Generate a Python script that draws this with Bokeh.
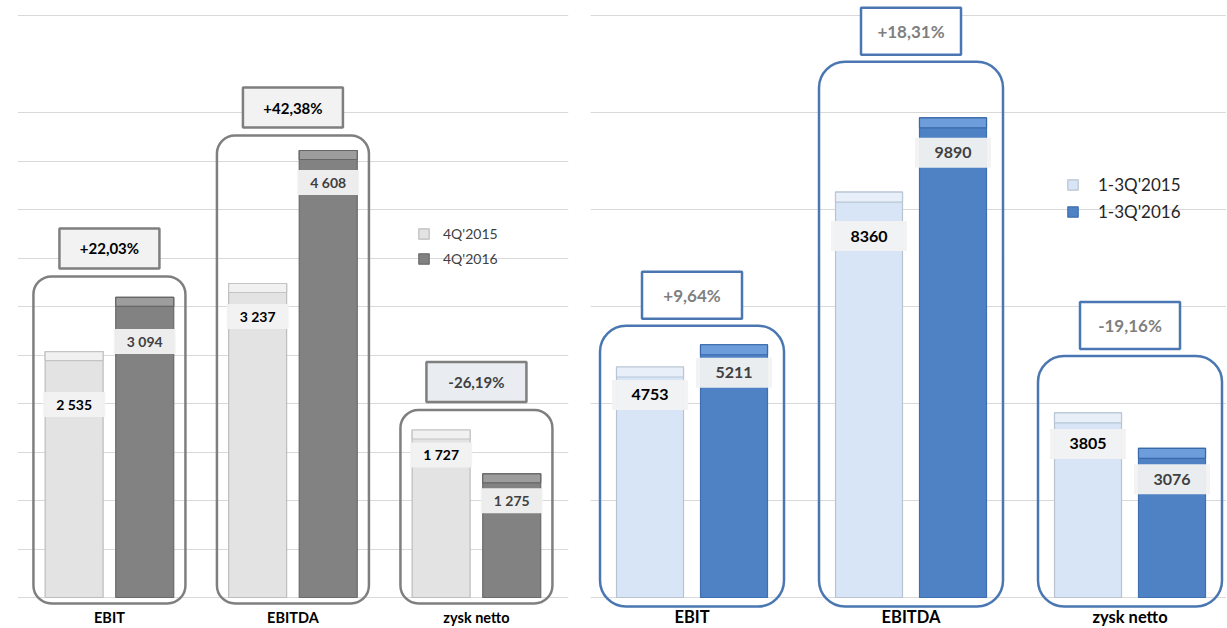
import numpy as np
from bokeh.plotting import figure
from bokeh.models import ColumnDataSource, Range1d, FixedTicker, Legend, LegendItem
from bokeh.layouts import row
from bokeh.embed import file_html
from bokeh.resources import INLINE
from bokeh.core.properties import value

# ---------------- data ----------------
categories = ["EBIT", "EBITDA", "zysk netto"]

q_series = ["4Q'2015", "4Q'2016"]
q_2015 = [2535, 3237, 1727]
q_2016 = [3094, 4608, 1275]
q_change = ["+22,03%", "+42,38%", "-26,19%"]

ytd_series = ["1-3Q'2015", "1-3Q'2016"]
ytd_2015 = [4753, 8360, 3805]
ytd_2016 = [5211, 9890, 3076]
ytd_change = ["+9,64%", "+18,31%", "-19,16%"]

grid_left = list(range(0, 5001, 500)) + [6000]
grid_right = list(range(0, 12001, 2000))

FONT = "Lato"

# ---------------- layout / style ----------------
FIG_H = 627
BASE_Y = 597  # pixel row of the zero line

left_style = dict(
    width=590, mbl=17, mbr=22, frame_w=551, ux=183.5, x0=-0.501, py=0.097,
    off_px=35.3, bar_px=58, cap_px=9,
    c_a="#e3e3e3", l_a="#bdbdbd", cap_a="#f1f1f1", capl_a="#c4c4c4",
    c_b="#828282", l_b="#6a6a6a", cap_b="#9d9d9d", capl_b="#666666",
    lab_h=25, lab_w=62, lab_off_a=[53, 33, 25], lab_off_b=[44, 32, 27],
    lab_size="14px", lab_col_a="#000000", lab_col_b="#404040",
    grp_w=152, grp_pad=[21, 15, 20], grp_below=6, grp_col="#7f7f7f", grp_r=18,
    pct_w=100, pct_h=40, pct_gap=8, pct_fill=["#f2f2f2", "#f2f2f2", "#e9edf1"],
    pct_line="#7f7f7f", pct_col=["#000000", "#000000", "#404040"], pct_size="15px",
    cat_size="14.5px", cat_off=20, leg_loc=(400, 359), leg_size="14px", leg_col="#404040",
    leg_standoff=13, leg_spacing=5, sep=" ",
)

right_style = dict(
    width=636, mbl=0, mbr=0, frame_w=636, ux=219.0, x0=-0.4635, py=0.0485,
    off_px=42, bar_px=67, cap_px=10,
    c_a="#d7e5f6", l_a="#b9c3cf", cap_a="#e8eff9", capl_a="#b9c6d6",
    c_b="#4f82c4", l_b="#3f6fae", cap_b="#6d9ddb", capl_b="#3a69a8",
    lab_h=30, lab_w=76, lab_off_a=[28, 44, 31], lab_off_b=[28, 35, 31],
    lab_size="16px", lab_col_a="#000000", lab_col_b="#404040",
    grp_w=184, grp_pad=[19, 56, 57], grp_below=9, grp_col="#4a77b2", grp_r=26,
    pct_w=100, pct_h=47, pct_gap=7, pct_fill=["#ffffff", "#ffffff", "#ffffff"],
    pct_line="#4a77b2", pct_col=["#7f7f7f", "#7f7f7f", "#7f7f7f"], pct_size="17px",
    cat_size="16.5px", cat_off=19, leg_loc=(476, 405), leg_size="17px", leg_col="#262626",
    leg_standoff=19, leg_spacing=6, sep="",
)


def build(vals_a, vals_b, names, changes, grid, st):
    n = len(categories)
    idx = np.arange(n, dtype=float)
    py, ux = st["py"], st["ux"]
    vals_a = np.array(vals_a, dtype=float)
    vals_b = np.array(vals_b, dtype=float)

    p = figure(width=st["width"], height=FIG_H,
               x_range=Range1d(st["x0"], st["x0"] + st["frame_w"] / ux),
               y_range=Range1d(-(FIG_H - BASE_Y) / py, BASE_Y / py),
               output_backend="svg", toolbar_location=None,
               x_axis_location=None, y_axis_location=None,
               min_border_left=st["mbl"], min_border_right=st["mbr"],
               min_border_top=0, min_border_bottom=0)
    p.outline_line_color = None
    p.background_fill_color = "white"
    for g in p.xgrid:
        g.grid_line_color = None
    for g in p.ygrid:
        g.ticker = FixedTicker(ticks=grid)
        g.grid_line_color = "#d9d9d9"
        g.grid_line_width = 1

    off = st["off_px"] / ux
    bw = st["bar_px"] / ux
    cap = st["cap_px"] / py

    # category labels under the zero line
    csrc = ColumnDataSource(dict(x=idx, y=np.full(n, -st["cat_off"] / py), txt=categories))
    p.text(x="x", y="y", text="txt", source=csrc, text_font=value(FONT),
           text_font_style="bold", text_font_size=st["cat_size"], text_color="#000000",
           text_align="center", text_baseline="middle")

    # group frames
    gw = st["grp_w"] / ux
    gtop = np.maximum(vals_a, vals_b) + np.array(st["grp_pad"]) / py
    gsrc = ColumnDataSource(dict(l=idx - gw / 2, r=idx + gw / 2,
                                 b=np.full(n, -st["grp_below"] / py), t=gtop))
    p.quad(left="l", right="r", bottom="b", top="t", source=gsrc, fill_color=None,
           line_color=st["grp_col"], line_width=2.5, border_radius=st["grp_r"])

    # bars
    src = ColumnDataSource(dict(xa=idx - off, xb=idx + off, va=vals_a, vb=vals_b,
                                ca=vals_a - cap, cb=vals_b - cap))
    ra = p.vbar(x="xa", top="va", bottom=0, width=bw, source=src,
                fill_color=st["c_a"], line_color=st["l_a"], line_width=1.2)
    rb = p.vbar(x="xb", top="vb", bottom=0, width=bw, source=src,
                fill_color=st["c_b"], line_color=st["l_b"], line_width=1.2)
    p.vbar(x="xa", top="va", bottom="ca", width=bw, source=src,
           fill_color=st["cap_a"], line_color=st["capl_a"], line_width=1.2)
    p.vbar(x="xb", top="vb", bottom="cb", width=bw, source=src,
           fill_color=st["cap_b"], line_color=st["capl_b"], line_width=1.2)

    # value labels
    fmt = lambda v: f"{int(v):,}".replace(",", st["sep"])
    lw = st["lab_w"] / ux
    h = st["lab_h"] / py
    for xs, vs, offs, col in ((idx - off, vals_a, st["lab_off_a"], st["lab_col_a"]),
                              (idx + off, vals_b, st["lab_off_b"], st["lab_col_b"])):
        yc = vs - np.array(offs) / py
        lsrc = ColumnDataSource(dict(l=xs - lw / 2, r=xs + lw / 2, b=yc - h / 2, t=yc + h / 2,
                                     x=xs, y=yc, txt=[fmt(v) for v in vs]))
        p.quad(left="l", right="r", bottom="b", top="t", source=lsrc,
               fill_color="#f2f2f2", fill_alpha=0.95, line_color=None)
        p.text(x="x", y="y", text="txt", source=lsrc, text_font=value(FONT),
               text_font_style="bold", text_font_size=st["lab_size"], text_color=col,
               text_align="center", text_baseline="middle")

    # percentage change boxes
    pw = st["pct_w"] / ux
    pb = gtop + st["pct_gap"] / py
    pt = pb + st["pct_h"] / py
    psrc = ColumnDataSource(dict(l=idx - pw / 2, r=idx + pw / 2, b=pb, t=pt,
                                 x=idx, y=(pb + pt) / 2, txt=changes,
                                 fill=st["pct_fill"], col=st["pct_col"]))
    p.quad(left="l", right="r", bottom="b", top="t", source=psrc, fill_color="fill",
           line_color=st["pct_line"], line_width=2.5)
    p.text(x="x", y="y", text="txt", source=psrc, text_font=value(FONT),
           text_font_style="bold", text_font_size=st["pct_size"], text_color="col",
           text_align="center", text_baseline="middle")

    # legend
    legend = Legend(items=[LegendItem(label=names[0], renderers=[ra]),
                           LegendItem(label=names[1], renderers=[rb])],
                    location=st["leg_loc"], orientation="vertical")
    legend.background_fill_alpha = 0
    legend.border_line_color = None
    legend.padding = 0
    legend.margin = 0
    legend.spacing = st["leg_spacing"]
    legend.label_height = 20
    legend.glyph_height = 13
    legend.glyph_width = 13
    legend.label_standoff = st["leg_standoff"]
    legend.label_text_font = FONT
    legend.label_text_font_size = st["leg_size"]
    legend.label_text_color = st["leg_col"]
    p.add_layout(legend)
    return p


p_left = build(q_2015, q_2016, q_series, q_change, grid_left, left_style)
p_right = build(ytd_2015, ytd_2016, ytd_series, ytd_change, grid_right, right_style)

layout = row(p_left, p_right, spacing=0)
open("out.html", "w").write(file_html(layout, INLINE))
